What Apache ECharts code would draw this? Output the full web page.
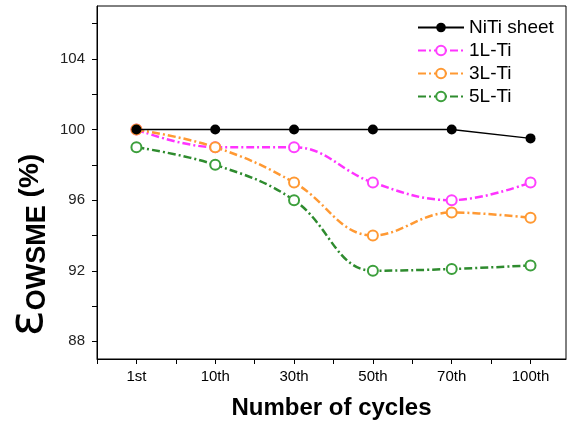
<!DOCTYPE html>
<html>
<head>
<meta charset="utf-8">
<script src="https://cdn.jsdelivr.net/npm/echarts@6/dist/echarts.min.js"></script>
<style>
  html, body { margin: 0; padding: 0; background: #fff; }
  #chart { width: 572px; height: 424px; }
</style>
</head>
<body>
<div id="chart"></div>
<script>
// data
var cycles = ["1st", "10th", "30th", "50th", "70th", "100th"];
var nitiSheet = [100, 100, 100, 100, 100, 99.5];
var ti1L = [100, 99, 99, 97, 96, 97];
var ti3L = [100, 99, 97, 94, 95.3, 95];
var ti5L = [99, 98, 96, 92, 92.1, 92.3];
var yLabels = [88, 92, 96, 100, 104];
var yTicks = [88, 90, 92, 94, 96, 98, 100, 102, 104, 106];

// category i sits at x = i + 1 on a value axis, so minor ticks can go in between
function toPoints(arr) {
  return arr.map(function (v, i) { return [i + 1, v]; });
}
var xLabelPos = cycles.map(function (c, i) { return i + 1; });
var xTickPos = [];
for (var i = 0; i < cycles.length * 2; i++) xTickPos.push(0.5 + i * 0.5);

var dashDot = [8, 3, 2, 3];

var chart = echarts.init(document.getElementById("chart"));
var option = {
  animation: false,
  grid: {
    left: 97,
    right: 6,
    top: 6,
    bottom: 65,
    outerBoundsMode: "none",
    show: true,
    borderColor: "#000",
    borderWidth: 1
  },
  legend: {
    orient: "vertical",
    left: 412,
    top: 13,
    itemWidth: 46,
    itemHeight: 12,
    itemGap: 4,
    textStyle: { fontFamily: "Liberation Sans", fontSize: 19, color: "#000" },
    data: ["NiTi sheet", "1L-Ti", "3L-Ti", "5L-Ti"]
  },
  xAxis: {
    type: "value",
    min: 0.5,
    max: 6.45,
    splitLine: { show: false },
    axisLine: { onZero: false, lineStyle: { color: "#000", width: 1 } },
    axisTick: { customValues: xTickPos, length: 5, lineStyle: { color: "#000" } },
    axisLabel: {
      customValues: xLabelPos,
      formatter: function (v) { return cycles[Math.round(v) - 1]; },
      margin: 10,
      fontFamily: "Liberation Sans",
      fontSize: 15,
      color: "#000"
    },
    name: "Number of cycles",
    nameLocation: "middle",
    nameGap: 37,
    nameTextStyle: { fontFamily: "Liberation Sans", fontWeight: "bold", fontSize: 24, color: "#000" }
  },
  yAxis: {
    type: "value",
    min: 87,
    max: 107,
    splitLine: { show: false },
    axisLine: { show: true, onZero: false, lineStyle: { color: "#000", width: 1 } },
    axisTick: { show: true, customValues: yTicks, length: 5, lineStyle: { color: "#000" } },
    axisLabel: {
      customValues: yLabels,
      margin: 12,
      fontFamily: "Liberation Sans",
      fontSize: 15,
      color: "#222"
    }
  },
  graphic: [
    {
      type: "text",
      x: 30,
      y: 245,
      rotation: Math.PI / 2,
      style: {
        text: "{e|ε}{s|OWSME}{p| (%)}",
        align: "center",
        verticalAlign: "middle",
        fill: "#000",
        rich: {
          e: { fontFamily: "DejaVu Sans", fontSize: 48, fill: "#000", verticalAlign: "bottom" },
          s: { fontFamily: "Liberation Sans", fontWeight: "bold", fontSize: 27, fill: "#000", padding: [16, 0, 0, 0] },
          p: { fontFamily: "Liberation Sans", fontWeight: "bold", fontSize: 28, fill: "#000" }
        }
      }
    }
  ],
  series: [
    {
      name: "NiTi sheet",
      type: "line",
      data: toPoints(nitiSheet),
      symbol: "circle",
      symbolSize: 10,
      itemStyle: { color: "#000" },
      lineStyle: { color: "#000", width: 1.5 },
      z: 5
    },
    {
      name: "1L-Ti",
      type: "line",
      smooth: 0.4,
      data: toPoints(ti1L),
      symbol: "emptyCircle",
      symbolSize: 10,
      itemStyle: { color: "#ff40ff", borderWidth: 1 },
      lineStyle: { color: "#ff33ff", width: 2.5, type: dashDot }
    },
    {
      name: "3L-Ti",
      type: "line",
      smooth: 0.4,
      data: toPoints(ti3L),
      symbol: "emptyCircle",
      symbolSize: 10,
      itemStyle: { color: "#ff9933", borderWidth: 1 },
      lineStyle: { color: "#ff9933", width: 2.5, type: dashDot }
    },
    {
      name: "5L-Ti",
      type: "line",
      smooth: 0.4,
      data: toPoints(ti5L),
      symbol: "emptyCircle",
      symbolSize: 10,
      itemStyle: { color: "#3c9f3c", borderWidth: 1 },
      lineStyle: { color: "#2e8b2e", width: 2.5, type: dashDot }
    }
  ]
};
chart.setOption(option);
</script>
</body>
</html>
